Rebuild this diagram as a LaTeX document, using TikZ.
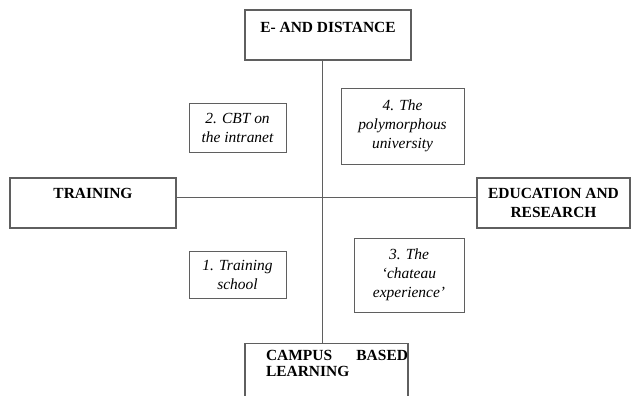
\documentclass[tikz,border=0pt]{standalone}
\usepackage{fontspec}
\setmainfont{Liberation Serif}
\usepackage{tikz}
\usetikzlibrary{positioning,calc}
\definecolor{boxgray}{RGB}{95,95,95}

\begin{document}
\begin{tikzpicture}[
    axisbox/.style={draw=boxgray, line width=0.8pt, rectangle, inner sep=0pt,
        font=\fontsize{11pt}{14pt}\selectfont\bfseries},
    cellbox/.style={draw=boxgray, line width=0.7pt, rectangle, inner sep=0pt, align=center,
        font=\fontsize{11pt}{13.5pt}\selectfont\itshape}
]
    \useasboundingbox (0,0) rectangle (15.775,-9.875);
    \clip (0,0) rectangle (15.775,-9.875);

    % Axes
    \node[axisbox, minimum width=4.15cm, text height=0.55cm, text depth=0.7cm] (edist) at (8.2,-0.875) {E- AND DISTANCE};
    \node[axisbox, minimum width=4.15cm, text height=0.5cm, text depth=0.75cm] (train) at (2.325,-5.075) {TRAINING};
    \node[axisbox, minimum width=3.825cm, minimum height=1.25cm, align=center] (edres) at (13.8375,-5.075) {EDUCATION AND\\RESEARCH};
    \node[axisbox, anchor=north, text width=4.075cm, align=left, text height=0.425cm, text depth=1.2cm,
        font=\fontsize{11pt}{11pt}\selectfont\bfseries] (campus) at (8.1625,-8.575)
        {\hspace*{0.525cm}CAMPUS\hfill BASED\\\hspace*{0.525cm}LEARNING};

    \coordinate (cross) at (8.05,-4.925);
    \draw[boxgray, line width=0.7pt] (edist.south -| cross) -- (campus.north -| cross);
    \draw[boxgray, line width=0.7pt] (train.east |- cross) -- (edres.west |- cross);

    % Quadrants
    \node[cellbox, minimum width=2.425cm, minimum height=1.225cm] (cbt) at (5.9375,-3.1875) {2. CBT on\\the intranet};
    \node[cellbox, minimum width=3.075cm, minimum height=1.9cm] (poly) at (10.0625,-3.15) {4. The\\polymorphous\\university};
    \node[cellbox, minimum width=2.425cm, minimum height=1.175cm] (school) at (5.9375,-6.8625) {1. Training\\school};
    \node[cellbox, minimum width=2.75cm, minimum height=1.85cm] (chateau) at (10.225,-6.875) {3. The\\`chateau\\experience'};
\end{tikzpicture}
\end{document}
